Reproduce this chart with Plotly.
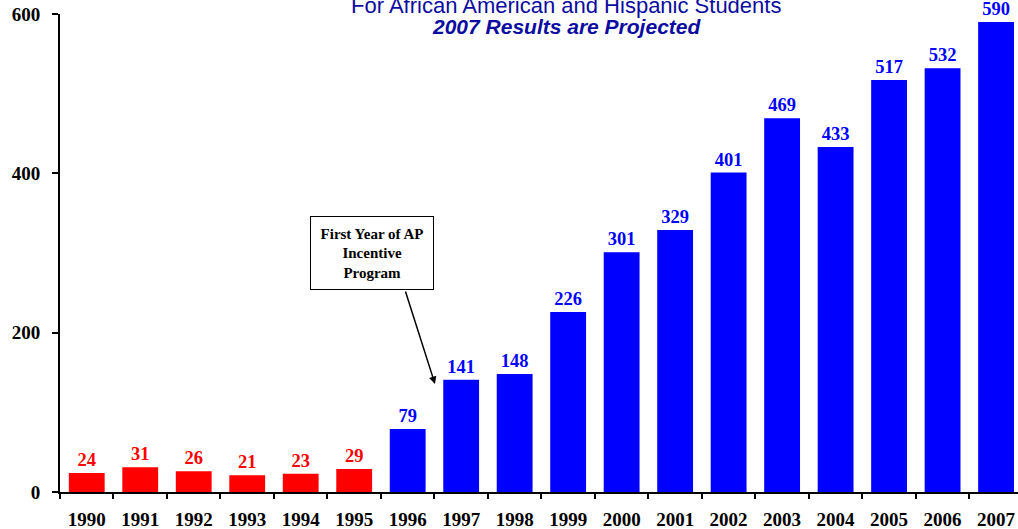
import plotly.graph_objects as go

years = ["1990", "1991", "1992", "1993", "1994", "1995", "1996", "1997", "1998",
         "1999", "2000", "2001", "2002", "2003", "2004", "2005", "2006", "2007"]
values = [24, 31, 26, 21, 23, 29, 79, 141, 148, 226, 301, 329, 401, 469, 433, 517, 532, 590]
pre_program_years = {"1990", "1991", "1992", "1993", "1994", "1995"}
y_ticks = [0, 200, 400, 600]

RED = "#FF0000"
BLUE = "#0000FF"
colors = [RED if y in pre_program_years else BLUE for y in years]

serif = "Liberation Serif, Times New Roman, serif"
sans = "Liberation Sans, Arial, sans-serif"
title_color = "#0c0ca0"

W, H = 1018, 529
L, T, B = 60, 14, 529 - 492
PW, PH = W - L, H - T - B


def px_x(p):
    return (p - L) / PW


def px_y(p):
    return (H - B - p) / PH


fig = go.Figure()
fig.add_trace(go.Bar(
    x=years, y=values,
    marker=dict(color=colors, line=dict(width=0)),
    text=[str(v) for v in values],
    textposition="outside",
    textfont=dict(family=serif, size=18.5, color=colors, weight="bold"),
    cliponaxis=False,
    hoverinfo="x+y",
))

fig.update_layout(
    width=W, height=H,
    margin=dict(l=L, r=0, t=T, b=B, autoexpand=False),
    paper_bgcolor="white", plot_bgcolor="white",
    bargap=0.33,
    showlegend=False,
    xaxis=dict(
        type="category",
        range=[-0.5, 17.41],
        automargin=False,
        showline=True, linecolor="black", linewidth=2,
        ticks="outside", tickson="boundaries", ticklen=5, tickwidth=1.5, tickcolor="black",
        tickfont=dict(family=serif, size=19, color="black", weight="bold"),
        ticklabelstandoff=9,
        showgrid=False, zeroline=False,
    ),
    yaxis=dict(
        range=[0, 600],
        automargin=False,
        ticklabeloverflow="allow",
        tickvals=y_ticks, ticktext=[str(t) for t in y_ticks],
        showline=True, linecolor="black", linewidth=2,
        ticks="outside", ticklen=6, tickwidth=1.5, tickcolor="black",
        tickfont=dict(family=serif, size=19, color="black", weight="bold"),
        ticklabelstandoff=8,
        showgrid=False, zeroline=False,
    ),
    annotations=[
        dict(text="For African American and Hispanic Students",
             xref="paper", x=px_x(566), yref="paper", y=px_y(20),
             xanchor="center", yanchor="bottom", showarrow=False,
             font=dict(family=sans, size=22, color=title_color)),
        dict(text="<b><i>2007 Results are Projected</i></b>",
             xref="paper", x=px_x(566), yref="paper", y=px_y(40),
             xanchor="center", yanchor="bottom", showarrow=False,
             font=dict(family=sans, size=21, color=title_color)),
        dict(text="<b>First Year of AP<br>Incentive<br>Program</b>",
             xref="paper", x=px_x(372), yref="paper", y=px_y(253),
             xanchor="center", yanchor="middle",
             showarrow=False, align="center",
             width=116, height=66, borderpad=3,
             bordercolor="black", borderwidth=1, bgcolor="white",
             font=dict(family=serif, size=15, color="black")),
        dict(text="", xref="paper", x=px_x(435), yref="paper", y=px_y(384),
             showarrow=True, ax=-30, ay=-94, axref="pixel", ayref="pixel",
             arrowhead=2, arrowsize=1, arrowwidth=1.5, arrowcolor="black"),
    ],
)

fig.write_html("out.html",
               config={"displayModeBar": False},
               post_script="document.body.style.margin='0';document.body.style.overflow='hidden';")
